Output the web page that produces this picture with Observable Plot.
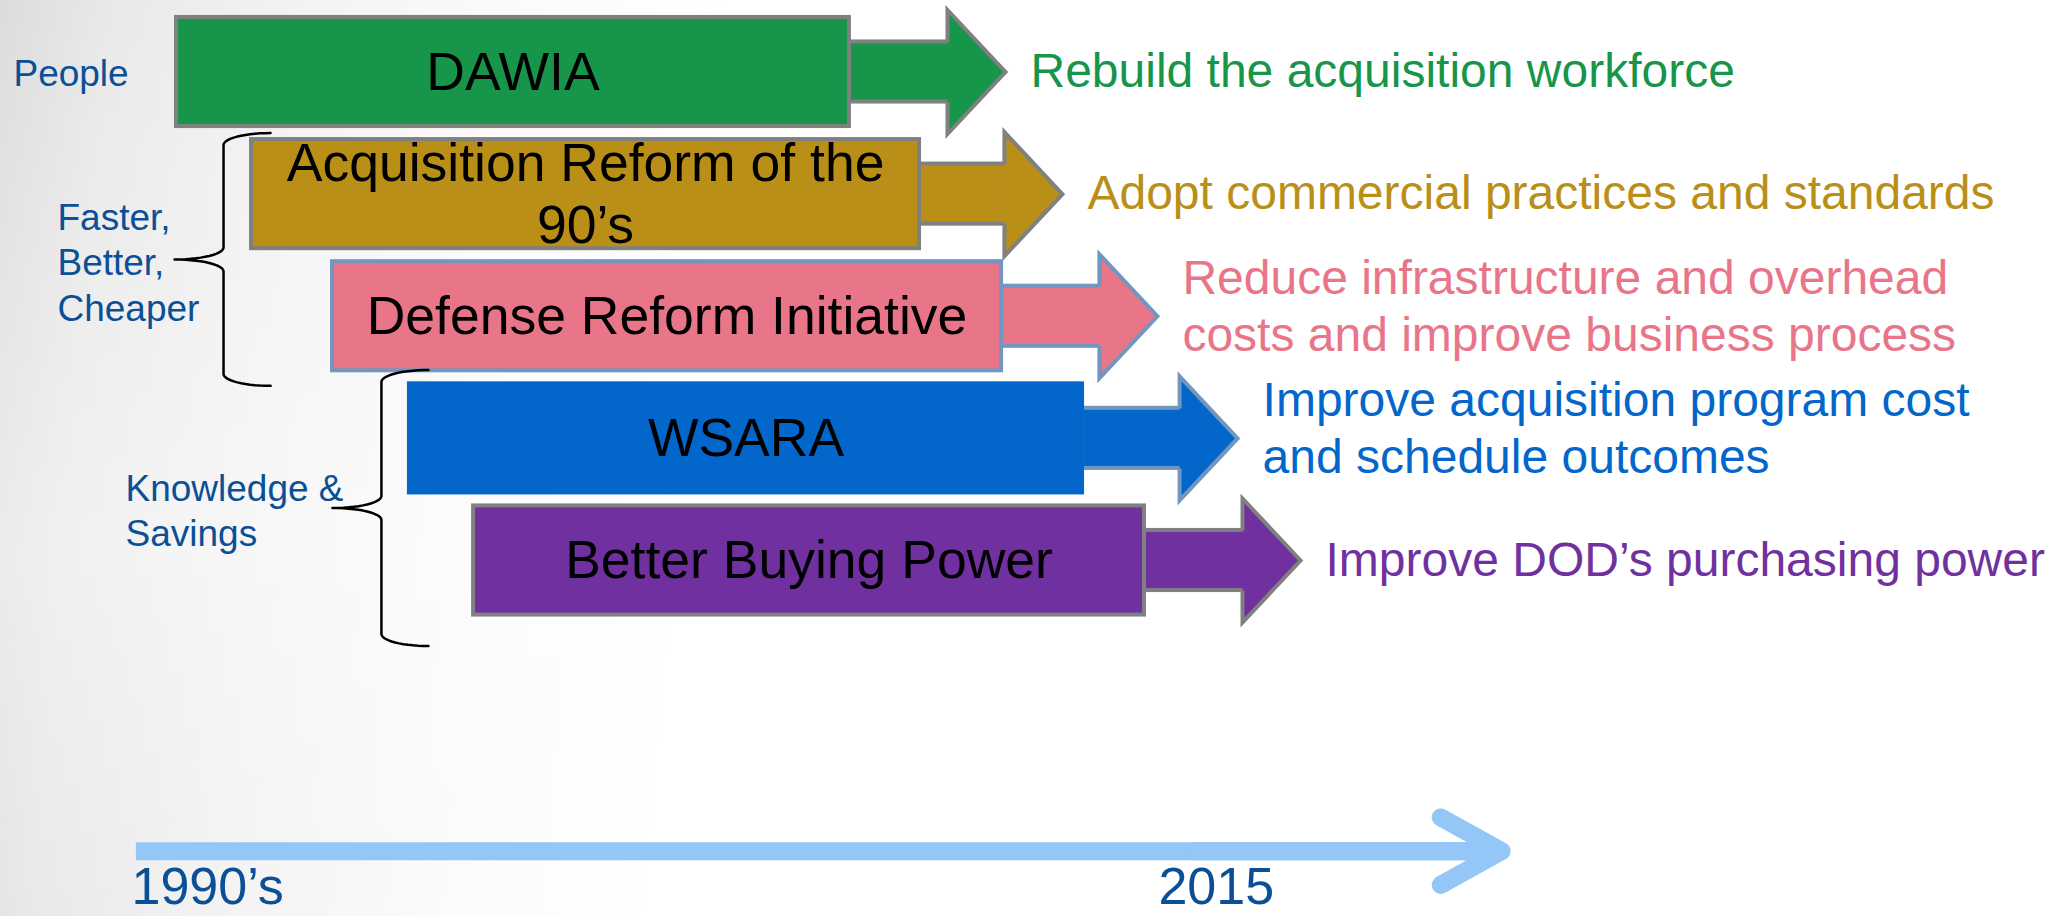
<!DOCTYPE html>
<html>
<head>
<meta charset="utf-8">
<script src="https://cdn.jsdelivr.net/npm/d3@7"></script>
<script src="https://cdn.jsdelivr.net/npm/@observablehq/plot@0.6"></script>
<style>
  html, body { margin: 0; padding: 0; overflow: hidden; }
  body {
    width: 2056px; height: 916px;
    background:
      linear-gradient(180deg, rgba(255,255,255,0) 0%, rgba(255,255,255,0.35) 60%, rgba(255,255,255,0) 100%),
      linear-gradient(95deg, #dcdcdc 0px, #e9e9e9 110px, #f3f3f3 300px, #fbfbfb 520px, #ffffff 720px);
  }
  #chart svg { display: block; }
</style>
</head>
<body>
<div id="chart"></div>
<script>
// ---------- data ----------
const initiatives = ["DAWIA", "Acquisition Reform of the\n90’s", "Defense Reform Initiative", "WSARA", "Better Buying Power"];
const goals = [
  "Rebuild the acquisition workforce",
  "Adopt commercial practices and standards",
  "Reduce infrastructure and overhead\ncosts and improve business process",
  "Improve acquisition program cost\nand schedule outcomes",
  "Improve DOD’s purchasing power"
];
// positions along the (abstract) timeline axis, 0–1000
const boxStart = [85.6, 122.1, 161.5, 198.9, 230.1];
const boxEnd   = [412.9, 447.0, 486.9, 526.3, 556.4];
const arrowTip = [488.8, 516.5, 562.7, 601.7, 632.3];

const groups       = ["People", "Faster,\nBetter,\nCheaper", "Knowledge &\nSavings"];
const groupFirst   = [0, 1, 3];          // first initiative row in the group
const groupLast    = [0, 2, 4];          // last initiative row in the group
const groupFrom    = [0, 0.50, 2.44];    // extent of the group's brace (row units)
const groupTo      = [0, 2.57, 4.70];
const groupLabelAt = [6.3, 27.7, 60.8];

const timelineLabels  = ["1990’s", "2015"];
const timelineLabelAt = [63.7, 563.2];
const timelineSpan    = [66.1, 730.1];

// ---------- styles ----------
const fillColors   = ["#17954a", "#b98f17", "#e87588", "#0366cb", "#7030a0"];
const boxStrokes   = ["#808080", "#808080", "#7196c0", "#0366cb", "#808080"];
const arrowStrokes = ["#808080", "#808080", "#7196c0", "#7196c0", "#808080"];
const labelBlue = "#0b4f97";
const timelineColor = "#94c6f7";
const FONT = "Liberation Sans, Arial, Helvetica, sans-serif";

// ---------- scales ----------
const X_DOMAIN = [0, 1000], X_RANGE = [0, 2056];
const Y_DOMAIN = [0, 4],    Y_RANGE = [71.5, 560];
const timelineRow = 6.38;
const xs = d3.scaleLinear(X_DOMAIN, X_RANGE);
const ys = d3.scaleLinear(Y_DOMAIN, Y_RANGE);

const rows = initiatives.map((name, i) => ({
  i, name, goal: goals[i], start: boxStart[i], end: boxEnd[i], tip: arrowTip[i]
}));

const groupRows = groups.map((label, g) => ({
  g, label, x: groupLabelAt[g],
  y: groupFirst[g] === groupLast[g] ? groupFirst[g] : (groupFrom[g] + groupTo[g]) / 2,
  multi: label.includes("\n")
}));

// curly braces for groups that span several rows
function bracePoints(g) {
  const first = groupFirst[g];
  const xl = xs(boxStart[first]) - 28;
  const top = ys(groupFrom[g]), bottom = ys(groupTo[g]), mid = (top + bottom) / 2;
  const pts = [], N = 14, hw = 47, nw = 49, r = 12;
  for (let k = 0; k <= N; k++) { const t = k / N * Math.PI / 2; pts.push([xl + hw - hw * Math.sin(t), top + r - r * Math.cos(t)]); }
  for (let k = 0; k <= N; k++) { const t = k / N * Math.PI / 2; pts.push([xl - nw + nw * Math.cos(t), mid - r + r * Math.sin(t)]); }
  for (let k = N; k >= 0; k--) { const t = k / N * Math.PI / 2; pts.push([xl - nw + nw * Math.cos(t), mid + r - r * Math.sin(t)]); }
  for (let k = N; k >= 0; k--) { const t = k / N * Math.PI / 2; pts.push([xl + hw - hw * Math.sin(t), bottom - r + r * Math.cos(t)]); }
  return pts.map(([px, py]) => ({g, x: xs.invert(px), y: ys.invert(py)}));
}
const braces = groupRows.filter(d => groupFirst[d.g] !== groupLast[d.g]).flatMap(d => bracePoints(d.g));

// arrow head symbol (tip at origin, open base so the shaft joins seamlessly)
const arrowHead = {
  draw(ctx) {
    ctx.moveTo(-58, -30);
    ctx.lineTo(-58, -62);
    ctx.lineTo(0, 0);
    ctx.lineTo(-58, 62);
    ctx.lineTo(-58, 30);
  }
};

const timelineLabelRows = timelineLabels.map((t, i) => ({t, x: timelineLabelAt[i]}));

const chart = Plot.plot({
  width: 2056,
  height: 916,
  margin: 0,
  style: {background: "transparent", fontFamily: FONT, overflow: "visible"},
  x: {domain: X_DOMAIN, range: X_RANGE, axis: null},
  y: {domain: Y_DOMAIN, range: Y_RANGE, axis: null},
  color: {type: "identity"},
  marks: [
    // arrow shafts
    Plot.rect(rows, {
      x1: "end", x2: "tip",
      y1: d => d.i - 0.5, y2: d => d.i + 0.5,
      insetTop: 31, insetBottom: 31, insetRight: 55,
      fill: d => fillColors[d.i], stroke: d => arrowStrokes[d.i], strokeWidth: 4
    }),
    // arrow heads
    Plot.dot(rows, {
      x: "tip", y: "i", symbol: arrowHead,
      fill: d => fillColors[d.i], stroke: d => arrowStrokes[d.i], strokeWidth: 4, strokeLinejoin: "miter"
    }),
    // initiative boxes
    Plot.rect(rows, {
      x1: "start", x2: "end",
      y1: d => d.i - 0.5, y2: d => d.i + 0.5,
      insetTop: 6.5, insetBottom: 6.5,
      fill: d => fillColors[d.i], stroke: d => boxStrokes[d.i], strokeWidth: 4
    }),
    // initiative names
    Plot.text(rows, {
      x: d => (d.start + d.end) / 2, y: "i", text: "name",
      fontSize: 53.5, lineHeight: 1.16, dy: -2, fill: "black", fontFamily: FONT, textAnchor: "middle"
    }),
    // goals
    Plot.text(rows.filter(d => !d.goal.includes("\n")), {
      x: "tip", y: "i", text: "goal", dx: 25, dy: -3,
      fontSize: 48, lineHeight: 1.19, textAnchor: "start",
      fill: d => fillColors[d.i], fontFamily: FONT
    }),
    Plot.text(rows.filter(d => d.goal.includes("\n")), {
      x: "tip", y: "i", text: "goal", dx: 25, dy: -12,
      fontSize: 48, lineHeight: 1.19, textAnchor: "start",
      fill: d => fillColors[d.i], fontFamily: FONT
    }),
    // braces
    Plot.line(braces, {x: "x", y: "y", z: "g", stroke: "black", strokeWidth: 2.5, curve: "linear"}),
    // group labels
    Plot.text(groupRows.filter(d => !d.multi), {
      x: "x", y: "y", text: "label", fontSize: 37, lineHeight: 1.22,
      textAnchor: "start", fill: labelBlue, fontFamily: FONT
    }),
    Plot.text(groupRows.filter(d => d.multi), {
      x: "x", y: "y", text: "label", fontSize: 37, lineHeight: 1.22, dy: 1.5,
      textAnchor: "start", fill: labelBlue, fontFamily: FONT
    }),
    // timeline: flat-ended shaft plus rounded chevron head
    Plot.ruleY([timelineRow], {
      x1: timelineSpan[0], x2: timelineSpan[1],
      stroke: timelineColor, strokeWidth: 18, strokeLinecap: "butt"
    }),
    Plot.arrow([{x1: timelineSpan[1] - 150, x2: timelineSpan[1]}], {
      x1: "x1", x2: "x2", y1: () => timelineRow, y2: () => timelineRow,
      stroke: timelineColor, strokeWidth: 18, headLength: 5.8, headAngle: 58,
      strokeLinecap: "round", strokeLinejoin: "round"
    }),
    Plot.text(timelineLabelRows, {
      x: "x", y: () => timelineRow, text: "t", dy: 53, lineAnchor: "bottom",
      fontSize: 52, textAnchor: "start", fill: labelBlue, fontFamily: FONT
    })
  ]
});

document.getElementById("chart").appendChild(chart);
</script>
</body>
</html>
